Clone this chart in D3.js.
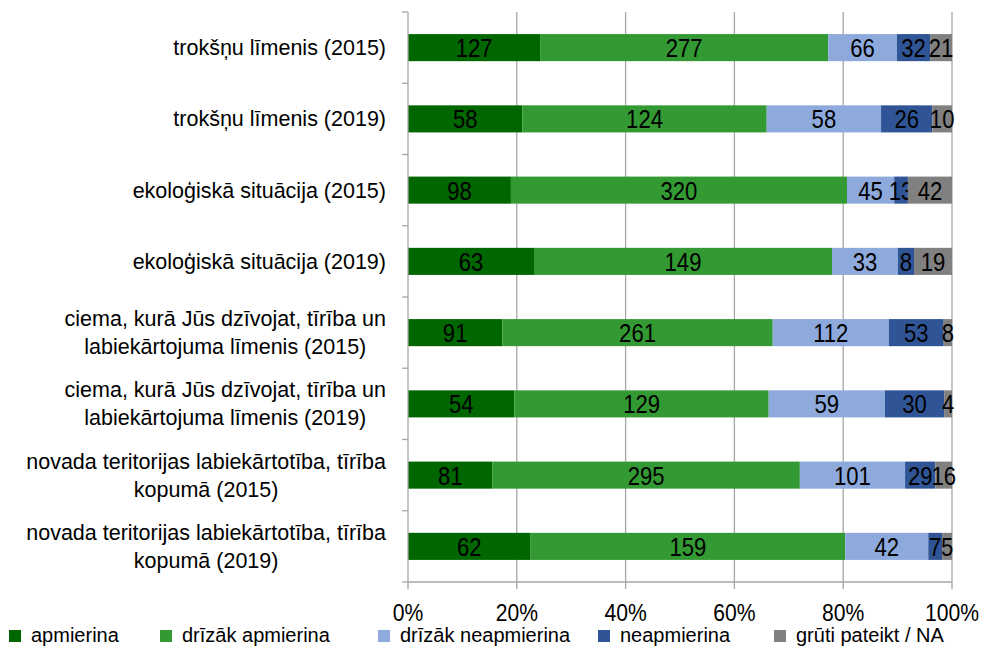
<!DOCTYPE html>
<html>
<head>
<meta charset="utf-8">
<script src="https://cdn.jsdelivr.net/npm/d3@7"></script>
<style>
  body { margin: 0; background: #fff; }
  svg { display: block; }
</style>
</head>
<body>
<svg id="chart" width="987" height="648"></svg>
<script>
// categories (top to bottom)
var categories = [
	["trokšņu līmenis (2015)"],
	["trokšņu līmenis (2019)"],
	["ekoloģiskā situācija (2015)"],
	["ekoloģiskā situācija (2019)"],
	["ciema, kurā Jūs dzīvojat, tīrība un", "labiekārtojuma līmenis (2015)"],
	["ciema, kurā Jūs dzīvojat, tīrība un", "labiekārtojuma līmenis (2019)"],
	["novada teritorijas labiekārtotība, tīrība", "kopumā (2015)"],
	["novada teritorijas labiekārtotība, tīrība", "kopumā (2019)"]
];
var seriesNames = ["apmierina", "drīzāk apmierina", "drīzāk neapmierina", "neapmierina", "grūti pateikt / NA"];
var seriesColors = ["#006600", "#339933", "#8eaadc", "#2f5597", "#808080"];

var apmierina = [127, 58, 98, 63, 91, 54, 81, 62];
var drizakApmierina = [277, 124, 320, 149, 261, 129, 295, 159];
var drizakNeapmierina = [66, 58, 45, 33, 112, 59, 101, 42];
var neapmierina = [32, 26, 13, 8, 53, 30, 29, 7];
var grutiPateikt = [21, 10, 42, 19, 8, 4, 16, 5];
var xTicks = [0, 0.2, 0.4, 0.6, 0.8, 1];

var seriesValues = [apmierina, drizakApmierina, drizakNeapmierina, neapmierina, grutiPateikt];

var font = "'Liberation Sans', Arial, sans-serif";

var svg = d3.select("#chart");
var mLeft = 408, mRight = 952, mTop = 12, mBottom = 582;
var axisColor = "#a6a6a6";

var x = d3.scaleLinear().domain([0, 1]).range([mLeft, mRight]);
var y = d3.scaleBand().domain(d3.range(categories.length)).range([mTop, mBottom]).paddingInner(0.62).paddingOuter(0.31);
var yOuter = d3.scaleBand().domain(d3.range(categories.length)).range([mTop, mBottom]);

// stacked proportions
var rows = categories.map(function (c, i) {
	var total = d3.sum(seriesValues, function (s) { return s[i]; });
	var acc = 0;
	return seriesValues.map(function (s, k) {
		var seg = { row: i, k: k, value: s[i], x0: acc / total };
		acc += s[i];
		seg.x1 = acc / total;
		return seg;
	});
});

// condensed text helper (chart fonts look narrow)
function narrowText(sel, size, sx, cx, cy) {
	return sel.attr("transform", function (d, i) {
			return "translate(" + cx(d, i) + "," + cy(d, i) + ") scale(" + sx + ",1)";
		})
		.attr("text-anchor", "middle")
		.style("font-family", font).style("font-size", size + "px").attr("fill", "#000");
}

// gridlines
svg.append("g").selectAll("line").data(xTicks.slice(1)).enter().append("line")
	.attr("x1", function (d) { return x(d); }).attr("x2", function (d) { return x(d); })
	.attr("y1", mTop).attr("y2", mBottom)
	.attr("stroke", axisColor).attr("stroke-width", 1.3);

// bars
var segs = svg.append("g").selectAll("g").data(rows).enter().append("g")
	.selectAll("g").data(function (d) { return d; }).enter().append("g");

segs.append("rect")
	.attr("x", function (d) { return x(d.x0); })
	.attr("y", function (d) { return y(d.row); })
	.attr("width", function (d) { return x(d.x1) - x(d.x0); })
	.attr("height", y.bandwidth())
	.attr("fill", function (d) { return seriesColors[d.k]; });

narrowText(segs.append("text"), 26, 0.85,
	function (d) { return (x(d.x0) + x(d.x1)) / 2; },
	function (d) { return y(d.row) + y.bandwidth() / 2 + 9.5; })
	.text(function (d) { return d.value; });

// y axis line and ticks
svg.append("line").attr("x1", mLeft).attr("x2", mLeft).attr("y1", mTop).attr("y2", mBottom)
	.attr("stroke", axisColor).attr("stroke-width", 1.3);
svg.append("g").selectAll("line").data(d3.range(categories.length + 1)).enter().append("line")
	.attr("x1", mLeft - 6).attr("x2", mLeft)
	.attr("y1", function (d) { return mTop + d * yOuter.step(); })
	.attr("y2", function (d) { return mTop + d * yOuter.step(); })
	.attr("stroke", axisColor).attr("stroke-width", 1.3);

// category labels: lines centred on each other, right edge of widest at 386
var catLabels = svg.append("g").selectAll("text").data(categories).enter().append("text")
	.attr("text-anchor", "middle")
	.style("font-family", font).style("font-size", "21.5px").attr("fill", "#000");
catLabels.each(function (lines, i) {
	var cy = y(i) + y.bandwidth() / 2;
	var lh = 28;
	var start = cy - (lines.length - 1) * lh / 2 + 7.5;
	var t = d3.select(this);
	t.selectAll("tspan").data(lines).enter().append("tspan")
		.attr("x", 0)
		.attr("y", function (d, j) { return start + j * lh; })
		.text(function (d) { return d; });
	var w = this.getBBox().width;
	t.selectAll("tspan").attr("x", 386 - w / 2);
});

// x axis
svg.append("line").attr("x1", mLeft).attr("x2", mRight).attr("y1", mBottom).attr("y2", mBottom)
	.attr("stroke", axisColor).attr("stroke-width", 1.3);
svg.append("g").selectAll("line").data(xTicks).enter().append("line")
	.attr("x1", function (d) { return x(d); }).attr("x2", function (d) { return x(d); })
	.attr("y1", mBottom).attr("y2", mBottom + 7)
	.attr("stroke", axisColor).attr("stroke-width", 1.3);
narrowText(svg.append("g").selectAll("text").data(xTicks).enter().append("text"), 24, 0.88,
	function (d) { return x(d); }, function () { return 621; })
	.text(function (d) { return d3.format(".0%")(d); });

// legend
var legendX = [9, 160, 378, 598, 774];
var leg = svg.append("g").selectAll("g").data(seriesNames).enter().append("g")
	.attr("transform", function (d, i) { return "translate(" + legendX[i] + ",630)"; });
leg.append("rect").attr("width", 12).attr("height", 12)
	.attr("fill", function (d, i) { return seriesColors[i]; });
leg.append("text").attr("transform", "translate(22,12)")
	.style("font-family", font).style("font-size", "20px").attr("fill", "#000")
	.text(function (d) { return d; });
</script>
</body>
</html>
